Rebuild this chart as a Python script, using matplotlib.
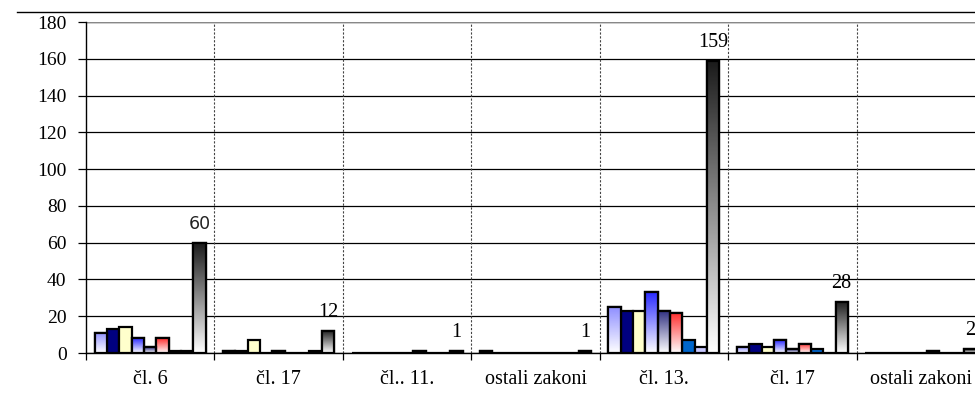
import numpy as np
import matplotlib
matplotlib.use("Agg")
import matplotlib.pyplot as plt
from matplotlib.colors import LinearSegmentedColormap
from matplotlib.lines import Line2D

categories = ["čl. 6", "čl. 17", "čl.. 11.", "ostali zakoni", "čl. 13.", "čl. 17", "ostali zakoni"]

# one list per series (9 series), one value per category
s1 = [11, 1, 0, 1, 25, 3, 0]
s2 = [13, 1, 0, 0, 23, 5, 0]
s3 = [14, 7, 0, 0, 23, 3, 0]
s4 = [8, 0, 0, 0, 33, 7, 0]
s5 = [3, 1, 0, 0, 23, 2, 0]
s6 = [8, 0, 1, 0, 22, 5, 1]
s7 = [1, 0, 0, 0, 7, 2, 0]
s8 = [1, 1, 0, 0, 3, 0, 0]
total = [60, 12, 1, 1, 159, 28, 2]

series = [s1, s2, s3, s4, s5, s6, s7, s8, total]
# (top colour, gradient?) -- gradients run from colour at top to white at bottom
fills = [("#8f8fff", True), ("#000080", False), ("#ffffcc", False), ("#2a2aff", True),
         ("#2e2e80", True), ("#ff2a2a", True), ("#0066cc", False), ("#c8c8ff", False),
         ("#1a1a1a", True)]

plt.rcParams["font.family"] = ["Liberation Serif", "DejaVu Serif"]

fig = plt.figure(figsize=(9.75, 4.03), dpi=100)
ax = fig.add_axes([86 / 975, 1 - 353 / 403, 7 * 128.43 / 975, 331 / 403])

n = len(series)
bw = 0.096
x = np.arange(len(categories)) + 0.5
for i, (vals, (col, grad)) in enumerate(zip(series, fills)):
    xs = x + (i - (n - 1) / 2) * bw
    bars = ax.bar(xs, vals, bw, color="white" if grad else col,
                  edgecolor="black", linewidth=1.6, zorder=3)
    if grad:
        cmap = LinearSegmentedColormap.from_list("g", ["white", col])
        for b, v in zip(bars, vals):
            if v <= 0:
                continue
            im = ax.imshow(np.linspace(0, 1, 256).reshape(-1, 1), cmap=cmap,
                           origin="lower", aspect="auto", zorder=3.5,
                           extent=[b.get_x(), b.get_x() + bw, 0, v])
            im.set_clip_path(b)
            ax.bar(b.get_x() + bw / 2, v, bw, fill=False, edgecolor="black",
                   linewidth=1.6, zorder=4)

# value labels over the total bars (the first one is drawn in a sans face)
for k, (xi, v) in enumerate(zip(x + (n - 1) / 2 * bw, total)):
    if k == 0:
        ax.text(xi, v + 7.6, str(v), ha="center", va="baseline", fontsize=12.5,
                family="DejaVu Sans", color="#222222")
    else:
        ax.text(xi, v + 7.6, str(v), ha="center", va="baseline", fontsize=14.5)

ax.set_xlim(0, len(categories))
ax.set_ylim(0, 180)
ax.set_yticks(range(0, 181, 20))
ax.yaxis.grid(True, color="black", linewidth=0.9, zorder=0)
ax.set_axisbelow(True)
for b in range(1, len(categories)):
    ax.axvline(b, color="#444444", linestyle=(0, (2, 1.5)), linewidth=0.8, zorder=1)

ax.set_xticks(range(0, len(categories) + 1))
ax.set_xticklabels([])
for xi, lab in zip(x, categories):
    ax.annotate(lab, (xi, 0), xycoords=("data", "axes fraction"),
                xytext=(0, -22.3), textcoords="offset points",
                ha="center", va="baseline", fontsize=14.5)
ax.tick_params(axis="x", length=5, width=0.9, direction="out")
ax.tick_params(axis="y", length=6, width=0.9, labelsize=14, pad=8)

for side in ["top", "right"]:
    ax.spines[side].set_visible(False)
ax.spines["left"].set_linewidth(1)
ax.spines["bottom"].set_linewidth(1)
ax.axhline(180, color="#888888", linewidth=1, zorder=1)

fig.add_artist(Line2D([17 / 975, 1], [1 - 11.5 / 403] * 2, color="black", linewidth=1))

fig.savefig("out.png", dpi=100)
